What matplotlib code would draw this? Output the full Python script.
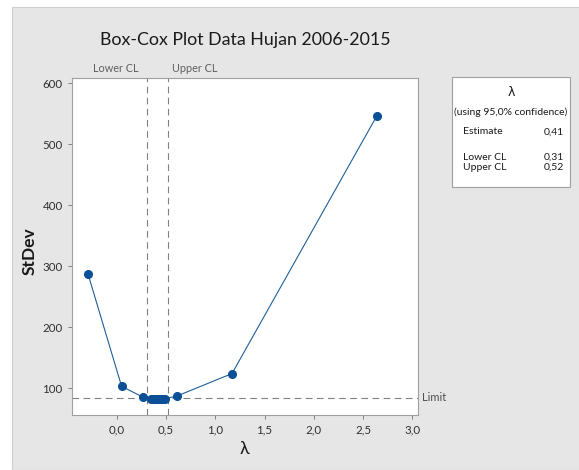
import matplotlib
matplotlib.use("Agg")
import matplotlib.pyplot as plt
from matplotlib.patches import Rectangle
from matplotlib.ticker import FuncFormatter

# Data
lambdas = [-0.29, 0.05, 0.27, 0.35, 0.37, 0.39, 0.41, 0.43, 0.45, 0.47, 0.49, 0.61, 1.17, 2.64]
stdev = [287, 103, 85, 82.6, 82.3, 82.2, 82.1, 82.2, 82.3, 82.5, 82.8, 87, 124, 547]
limit = 84.5
lower_cl = 0.31
upper_cl = 0.52
estimate = 0.41
xticks = [0.0, 0.5, 1.0, 1.5, 2.0, 2.5, 3.0]
yticks = [100, 200, 300, 400, 500, 600]

plt.rcParams['font.family'] = ['Lato', 'DejaVu Sans']

W, H = 579, 470
fig = plt.figure(figsize=(W / 100, H / 100), dpi=100)
fig.patch.set_facecolor('white')
fig.patches.append(Rectangle((12 / W, 0), 1, 1 - 7 / H, transform=fig.transFigure,
                             facecolor='#e6e6e6', edgecolor='#cfcfcf', lw=0.8, zorder=-10))

ax = fig.add_axes([71.7 / W, 1 - 415 / H, (418 - 71.7) / W, (415 - 78) / H])
ax.set_facecolor('white')
for s in ax.spines.values():
    s.set_color('#a0a0a0')
    s.set_linewidth(0.8)

col = '#0b4f96'
ax.plot(lambdas, stdev, color='#1f5f99', lw=0.8, marker='o', ms=5.5,
        mfc=col, mec=col, zorder=3)
ax.axhline(limit, color='#808080', lw=0.8, ls=(0, (6, 4)), zorder=2)
ax.axvline(lower_cl, color='#808080', lw=0.8, ls=(0, (6, 4)), zorder=2)
ax.axvline(upper_cl, color='#808080', lw=0.8, ls=(0, (6, 4)), zorder=2)

ax.set_xlim(-0.456, 3.056)
ax.set_ylim(56, 608.7)
ax.set_xticks(xticks)
ax.set_yticks(yticks)
ax.xaxis.set_major_formatter(FuncFormatter(lambda v, p: f"{v:.1f}".replace('.', ',')))
ax.tick_params(axis='both', colors='#808080', labelcolor='#303030', labelsize=8.3,
               length=3, width=0.7)

ax.text(0.225, 1.012, 'Lower CL', transform=ax.get_xaxis_transform(),
        ha='right', va='bottom', fontsize=7.8, color='#606060')
ax.text(upper_cl + 0.04, 1.012, 'Upper CL', transform=ax.get_xaxis_transform(),
        ha='left', va='bottom', fontsize=7.8, color='#606060')
ax.text(1.012, limit, 'Limit', transform=ax.get_yaxis_transform(),
        ha='left', va='center', fontsize=8, color='#505050')

fig.text(245 / W, 1 - 40 / H, 'Box-Cox Plot Data Hujan 2006-2015', ha='center', va='center',
         fontsize=12.8, color='#1a1a1a')
ax.set_xlabel('λ', fontsize=13, color='#1a1a1a', labelpad=4)
ax.set_ylabel('StDev', fontsize=12.5, color='#1a1a1a', fontweight='bold')
ax.yaxis.set_label_coords((37.5 - 71.7) / (418 - 71.7), (415 - 251) / (415 - 78))

# legend box
bx0, by0, bx1, by1 = 452, 77, 570, 187
fig.patches.append(Rectangle((bx0 / W, 1 - by1 / H), (bx1 - bx0) / W, (by1 - by0) / H,
                             transform=fig.transFigure, facecolor='white',
                             edgecolor='#a0a0a0', lw=0.8, zorder=1))
fs = 7.5
fig.text(511 / W, 1 - 92.5 / H, 'λ', ha='center', va='center', fontsize=9, color='#1a1a1a',
         family='DejaVu Sans')
fig.text(511 / W, 1 - 112.5 / H, '(using 95,0% confidence)', ha='center', va='center',
         fontsize=fs, color='#1a1a1a')
fig.text(463 / W, 1 - 132 / H, 'Estimate', ha='left', va='center', fontsize=fs, color='#1a1a1a')
fig.text(564 / W, 1 - 132 / H, f"{estimate:.2f}".replace('.', ','), ha='right', va='center',
         fontsize=fs, color='#1a1a1a')
fig.text(463 / W, 1 - 157 / H, 'Lower CL', ha='left', va='center', fontsize=fs, color='#1a1a1a')
fig.text(564 / W, 1 - 157 / H, f"{lower_cl:.2f}".replace('.', ','), ha='right', va='center',
         fontsize=fs, color='#1a1a1a')
fig.text(463 / W, 1 - 167.5 / H, 'Upper CL', ha='left', va='center', fontsize=fs, color='#1a1a1a')
fig.text(564 / W, 1 - 167.5 / H, f"{upper_cl:.2f}".replace('.', ','), ha='right', va='center',
         fontsize=fs, color='#1a1a1a')

fig.savefig('out.png', dpi=100, facecolor=fig.get_facecolor())
